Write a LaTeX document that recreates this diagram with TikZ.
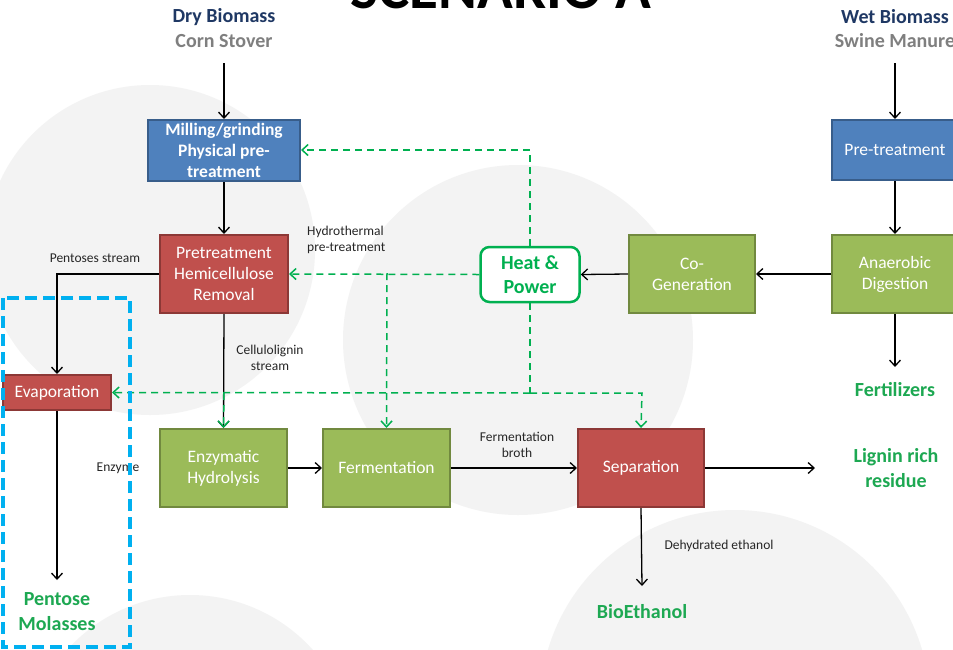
\documentclass[tikz,border=0pt]{standalone}
\usepackage{fontspec}
\setmainfont{Carlito}
\usetikzlibrary{arrows.meta}
\definecolor{bfill}{HTML}{4F81BD}
\definecolor{bdraw}{HTML}{385D8A}
\definecolor{rfill}{HTML}{C0504D}
\definecolor{rdraw}{HTML}{8C3836}
\definecolor{gfill}{HTML}{9BBB59}
\definecolor{gdraw}{HTML}{71893F}
\definecolor{hpgreen}{HTML}{00B050}
\definecolor{lblgreen}{HTML}{1DA852}
\definecolor{navy}{HTML}{1F3864}
\definecolor{midgray}{HTML}{7F7F7F}
\definecolor{bggray}{HTML}{F3F3F3}
\definecolor{cyanbox}{HTML}{00B0F0}
\definecolor{txt}{HTML}{262626}
\begin{document}
\begin{tikzpicture}[x=1pt,y=-1pt,
  procbox/.style={rectangle, line width=2pt, text=white, align=center, inner sep=0pt,
     font=\fontsize{17.5}{21}\selectfont},
  bluebox/.style={procbox, fill=bfill, draw=bdraw},
  redbox/.style={procbox, fill=rfill, draw=rdraw},
  greenbox/.style={procbox, fill=gfill, draw=gdraw},
  smalllbl/.style={text=txt, align=center, inner sep=0pt, font=\fontsize{13.5}{16}\selectfont},
  outlbl/.style={text=lblgreen, align=center, inner sep=0pt, font=\fontsize{20}{25}\selectfont\bfseries},
  srclbl/.style={inner sep=0pt, font=\fontsize{20}{24}\selectfont\bfseries},
  flow/.style={draw=black, line width=1.3pt, -{Straight Barb[length=6pt,width=11pt,line width=1.3pt]}},
  energy/.style={draw=hpgreen, line width=1.5pt, dash pattern=on 7pt off 5pt,
     -{Straight Barb[length=6pt,width=11pt,line width=1.5pt]}},
  energyline/.style={draw=hpgreen, line width=1.5pt, dash pattern=on 7pt off 5pt}
]
\useasboundingbox (0,0) rectangle (953,649);
\fill[white] (0,0) rectangle (953,649);
% background circles
\fill[bggray] (150,250) circle (165);
\fill[bggray] (518,340) circle (175);
\fill[bggray] (735,705) circle (195);
\fill[bggray] (190,760) circle (165);

% title (cut off at top, as in the reference)
\node[font=\fontsize{59}{59}\selectfont\bfseries, anchor=base, inner sep=0pt] (title) at (501,8) {SCENARIO A};

% sources
\node[srclbl, text=navy] (dry) at (224,17) {Dry Biomass};
\node[srclbl, text=midgray] (corn) at (224,41) {Corn Stover};
\node[srclbl, text=navy] (wet) at (895,17) {Wet Biomass};
\node[srclbl, text=midgray] (swine) at (895,41) {Swine Manure};
\coordinate (drytop) at (224,63);
\coordinate (wettop) at (895,63);

% process boxes
\node[bluebox, minimum width=152, minimum height=61, font=\fontsize{17.5}{21}\selectfont\bfseries] (mill) at (224,150.5) {Milling/grinding\\Physical pre-\\treatment};
\node[redbox, minimum width=128, minimum height=78] (pre) at (224,274) {Pretreatment\\Hemicellulose\\Removal};
\node[redbox, minimum width=108, minimum height=35] (evap) at (57,392.5) {Evaporation};
\node[greenbox, minimum width=127, minimum height=78] (enz) at (223.5,468) {Enzymatic\\Hydrolysis};
\node[greenbox, minimum width=127, minimum height=78] (ferm) at (386.5,468) {Fermentation};
\node[redbox, minimum width=126, minimum height=78] (sep) at (641,468) {Separation};
\node[greenbox, minimum width=126, minimum height=78] (cogen) at (692,274) {Co-\\Generation};
\node[greenbox, minimum width=126, minimum height=78] (anaer) at (895,274) {Anaerobic\\Digestion};
\node[bluebox, minimum width=126, minimum height=60] (wpre) at (895,150) {Pre-treatment};
\node[rectangle, rounded corners=9pt, draw=hpgreen, line width=2.5pt, fill=white,
  minimum width=99, minimum height=55, align=center, text=hpgreen, inner sep=0pt,
  font=\fontsize{20}{24}\selectfont\bfseries] (hp) at (530,274.5) {Heat \&\\Power};

% outputs
\node[outlbl] (fert) at (895,390) {Fertilizers};
\node[outlbl] (lignin) at (896,468) {Lignin rich\\residue};
\node[outlbl] (bioeth) at (642,612) {BioEthanol};
\node[outlbl] (molas) at (57,612) {Pentose\\Molasses};
\coordinate (ligend) at (815,468);
\coordinate (ethend) at (642,586);
\coordinate (molend) at (57,580);
\coordinate (fertend) at (895,367);

% small labels
\node[smalllbl] (l1) at (95,258) {Pentoses stream};
\node[smalllbl, anchor=west, align=left] (l2) at (307,240) {Hydrothermal\\pre-treatment};
\node[smalllbl] (l3) at (270,358) {Cellulolignin\\stream};
\node[smalllbl] (l4) at (118,468) {Enzyme};
\node[smalllbl] (l5) at (517,445) {Fermentation\\broth};
\node[smalllbl] (l6) at (719,546) {Dehydrated ethanol};

% material flows
\draw[flow] (drytop) -- (mill.north);
\draw[flow] (mill.south) -- (pre.north);
\draw[flow] (pre.west) -| (evap.north);
\draw[flow] (pre.south) -- (enz.north);
\draw[flow] (evap.south) -- (molend);
\draw[flow] (enz.east) -- (ferm.west);
\draw[flow] (ferm.east) -- (sep.west);
\draw[flow] (sep.east) -- (ligend);
\draw[flow] (sep.south) -- (ethend);
\draw[flow] (wettop) -- (wpre.north);
\draw[flow] (wpre.south) -- (anaer.north);
\draw[flow] (anaer.west) -- (cogen.east);
\draw[flow] (cogen.west) -- (hp.east);
\draw[flow] (anaer.south) -- (fertend);

% energy flows
\coordinate (hpup) at (530,150);
\coordinate (hpdown) at (530,393);
\coordinate (fermtap) at (387,273);
\coordinate (enztap) at (224,393);
\coordinate (septap) at (642,393);
\draw[energy] (hp.north) -- (hpup) -- (mill.east |- hpup);
\draw[energy] (hp.west) -- (pre.east);
\draw[energy] (fermtap) -- (ferm.north);
\draw[energyline] (hp.south) -- (hpdown);
\draw[energy] (hpdown) -- (evap.east);
\draw[energy] (hpdown) -- (septap) -- (sep.north);
\draw[energy] (enztap) -- (enz.north);

% dashed highlight box
\draw[cyanbox, line width=4pt, dash pattern=on 12pt off 6pt] (3,298) rectangle (130,647);
\end{tikzpicture}
\end{document}
